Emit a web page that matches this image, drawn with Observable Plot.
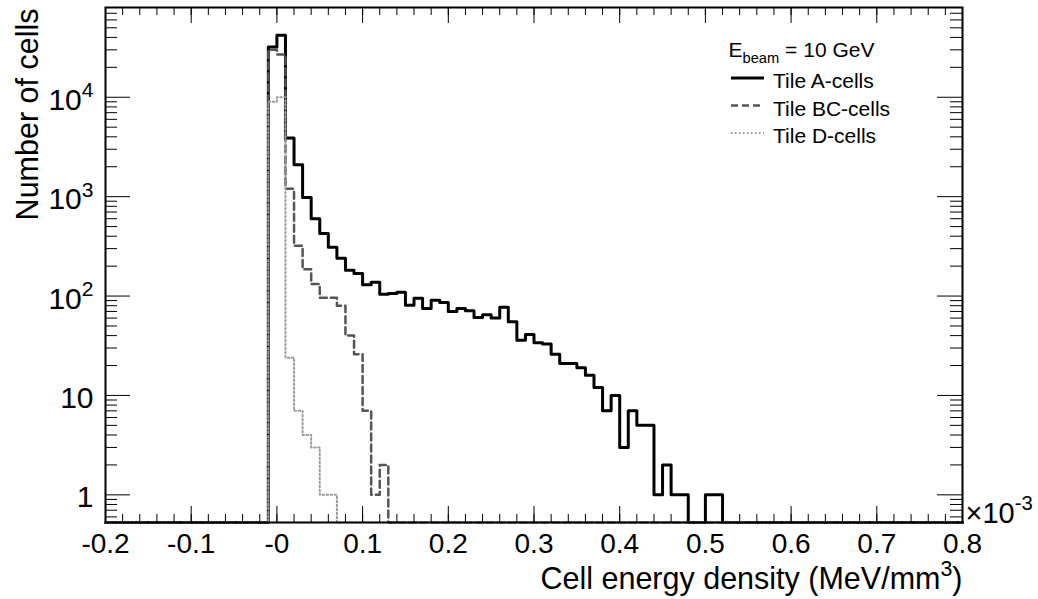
<!DOCTYPE html>
<html><head><meta charset="utf-8">
<script src="https://cdn.jsdelivr.net/npm/d3@7"></script>
<script src="https://cdn.jsdelivr.net/npm/@observablehq/plot@0.6"></script>
<style>
body{margin:0;background:#fff;}
#chart svg{display:block;font-family:"Liberation Sans",Arial,sans-serif;background:#fff;}
</style></head><body><div id="chart"></div>
<script>
// Histogram binning (units of 10^-3 MeV/mm^3)
const binStart = -0.2, binWidth = 0.01, binEnd = 0.8;
const firstFilledEdge = -0.01; // lower edge of the first listed bin
// Counts per bin, starting at bin [-0.01, 0)
const countsA  = [32000, 42000, 3900, 2100, 980, 600, 425, 310, 240, 182, 169, 130, 138, 104, 106, 109, 81, 95, 75, 91, 86, 70, 75, 71, 61, 65, 60, 77, 55, 36, 41, 34, 33, 26, 21, 21, 19, 16, 12, 7, 10, 3, 7, 5, 5, 1, 2, 1, 1, 0, 0, 1, 1];
const countsBC = [30000, 27000, 1200, 320, 186, 132, 96, 96, 80, 40, 26, 7, 1, 2];
const countsD  = [9000, 10000, 24, 7, 4, 3, 1, 1];
const seriesNames = ["Tile A-cells", "Tile BC-cells", "Tile D-cells"];
const legendTitle = "E_{beam} = 10 GeV";
const xTickValues = [-0.2, -0.1, 0, 0.1, 0.2, 0.3, 0.4, 0.5, 0.6, 0.7, 0.8];
const xTickLabels = ["-0.2", "-0.1", "-0", "0.1", "0.2", "0.3", "0.4", "0.5", "0.6", "0.7", "0.8"];
const yTickValues = [1, 10, 100, 1000, 10000];
const yTickLabels = ["1", "10", "10^{2}", "10^{3}", "10^{4}"];
const yDomain = [0.527, 80000];
const xTitle = "Cell energy density (MeV/mm^{3})";
const yTitle = "Number of cells";
const xExponent = "\u00d710^{-3}";

const W = 1038, H = 599, mL = 105, mR = 76, mT = 7, mB = 77;
const plotW = W - mL - mR, plotH = H - mT - mB;

function histSteps(counts) {
  const pts = [];
  const n = Math.round((binEnd - binStart) / binWidth);
  const off = Math.round((firstFilledEdge - binStart) / binWidth);
  for (let i = 0; i < n; i++) {
    const edge = +(binStart + i * binWidth).toFixed(4);
    const c = (i - off >= 0 && i - off < counts.length) ? counts[i - off] : 0;
    pts.push({x: edge, y: Math.max(c, yDomain[0])});
  }
  pts.push({x: binEnd, y: yDomain[0]});
  return pts;
}
const sA = histSteps(countsA), sBC = histSteps(countsBC), sD = histSteps(countsD);

const xMinor = d3.range(0, 51).map(i => +(binStart + i * 0.02).toFixed(3));
const yMinor = [];
for (let e = -1; e <= 4; e++) for (let k = 2; k <= 9; k++) {
  const v = k * Math.pow(10, e);
  if (v >= yDomain[0] && v <= yDomain[1]) yMinor.push(v);
}

const fsTick = 28, fsYTick = 30, fsTitle = 30.5, fsLeg = 21;
const chart = Plot.plot({
  width: W, height: H,
  marginLeft: mL, marginRight: mR, marginTop: mT, marginBottom: mB,
  x: {domain: [binStart, binEnd], axis: null},
  y: {type: "log", domain: yDomain, axis: null},
  marks: [
    Plot.line(sA, {x: "x", y: "y", curve: "step-after", stroke: "#000", strokeWidth: 3}),
    Plot.line(sBC, {x: "x", y: "y", curve: "step-after", stroke: "#555", strokeWidth: 2.5, strokeDasharray: "7,4"}),
    Plot.line(sD, {x: "x", y: "y", curve: "step-after", stroke: "#9a9a9a", strokeWidth: 2, strokeDasharray: "1.5,2.5"}),
    // ticks (inward, all four sides)
    Plot.tickX(xMinor, {x: d => d, insetTop: plotH - 8, stroke: "#000"}),
    Plot.tickX(xTickValues, {x: d => d, insetTop: plotH - 16, stroke: "#000"}),
    Plot.tickX(xMinor, {x: d => d, insetBottom: plotH - 8, stroke: "#000"}),
    Plot.tickX(xTickValues, {x: d => d, insetBottom: plotH - 16, stroke: "#000"}),
    Plot.tickY(yMinor, {y: d => d, insetRight: plotW - 12, stroke: "#000"}),
    Plot.tickY(yTickValues, {y: d => d, insetRight: plotW - 25, stroke: "#000"}),
    Plot.tickY(yMinor, {y: d => d, insetLeft: plotW - 12, stroke: "#000"}),
    Plot.tickY(yTickValues, {y: d => d, insetLeft: plotW - 25, stroke: "#000"}),
    Plot.frame({stroke: "#000", strokeWidth: 2}),
    // tick labels
    Plot.text(xTickValues, {x: d => d, text: (d, i) => xTickLabels[i], frameAnchor: "bottom", lineAnchor: "bottom", dy: 30, fontSize: fsTick, fill: "#000"}),
    Plot.text(yTickValues, {y: d => d, text: (d, i) => yTickLabels[i], frameAnchor: "left", textAnchor: "end", lineAnchor: "middle", dx: -12, dy: 3, fontSize: fsYTick, fill: "#000"}),
    // titles
    Plot.text([xTitle], {text: d => d, frameAnchor: "bottom-right", textAnchor: "end", lineAnchor: "bottom", dy: 66, fontSize: fsTitle, fill: "#000"}),
    Plot.text([xExponent], {text: d => d, frameAnchor: "bottom-right", textAnchor: "start", lineAnchor: "bottom", dx: 3, dy: 0, fontSize: 29, fill: "#000"}),
    Plot.text([yTitle], {text: d => d, frameAnchor: "top-left", rotate: -90, textAnchor: "end", lineAnchor: "bottom", dx: -68, dy: 1, fontSize: fsTitle, fill: "#000"}),
    // legend header
    Plot.text([legendTitle], {text: d => d, frameAnchor: "top-left", textAnchor: "start", lineAnchor: "bottom", dx: 728 - mL, dy: 56 - mT, fontSize: fsLeg, fill: "#000"})
  ]
});
document.getElementById("chart").appendChild(chart);

// legend entries
const svg = d3.select(chart);
const legendStyles = [
  {stroke: "#000", width: 3, dash: null},
  {stroke: "#555", width: 2.5, dash: "7,4"},
  {stroke: "#9a9a9a", width: 2, dash: "1.5,2.5"}
];
const lg = svg.append("g").attr("font-size", fsLeg).attr("text-anchor", "start")
  .attr("font-family", "'Liberation Sans', Arial, sans-serif");
seriesNames.forEach((name, i) => {
  const yLine = 78 + i * 27.5;
  lg.append("line").attr("x1", 731).attr("x2", 764).attr("y1", yLine).attr("y2", yLine)
    .attr("stroke", legendStyles[i].stroke).attr("stroke-width", legendStyles[i].width)
    .attr("stroke-dasharray", legendStyles[i].dash);
  lg.append("text").attr("x", 773).attr("y", yLine + 10).attr("fill", "#000").text(name);
});

// rich text: ^{..} superscripts and _{..} subscripts
const NS = "http://www.w3.org/2000/svg";
chart.querySelectorAll("text").forEach(t => {
  const s = t.textContent;
  if (!/[\^_]\{/.test(s)) return;
  const f = parseFloat(getComputedStyle(t).fontSize) || fsTick;
  t.textContent = "";
  const re = /([\^_])\{([^}]*)\}/g;
  let last = 0, m, shift = 0;
  const add = (str, type) => {
    if (!str) return;
    const ts = document.createElementNS(NS, "tspan");
    ts.textContent = str;
    const target = type === "^" ? -0.42 * f : type === "_" ? 0.3 * f : 0;
    ts.setAttribute("dy", target - shift);
    shift = target;
    if (type) ts.setAttribute("font-size", 0.7 * f);
    t.appendChild(ts);
  };
  while ((m = re.exec(s))) { add(s.slice(last, m.index), null); add(m[2], m[1]); last = re.lastIndex; }
  add(s.slice(last), null);
});
</script></body></html>
